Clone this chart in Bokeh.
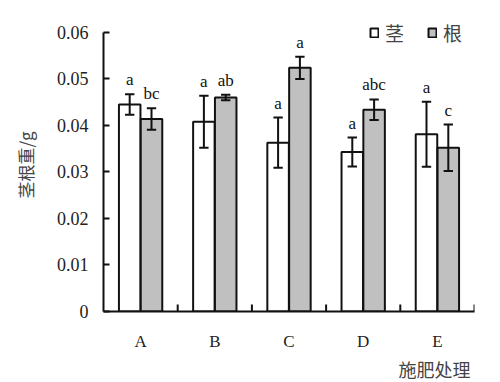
from bokeh.plotting import figure
from bokeh.models import ColumnDataSource, FactorRange, Title, FixedTicker, Range1d
from bokeh.transform import dodge
from bokeh.core.properties import value
from bokeh.embed import file_html
from bokeh.resources import INLINE

# ---- data ----
categories = ["A", "B", "C", "D", "E"]
stem = [0.0445, 0.0408, 0.0363, 0.0343, 0.0381]
stem_err = [0.0022, 0.0056, 0.0054, 0.0031, 0.0070]
root = [0.0414, 0.0460, 0.0524, 0.0434, 0.0352]
root_err = [0.0023, 0.0006, 0.0024, 0.0022, 0.0050]
stem_letters = ["a", "a", "a", "a", "a"]
root_letters = ["bc", "ab", "a", "abc", "c"]
y_ticks = [0, 0.01, 0.02, 0.03, 0.04, 0.05, 0.06]
y_tick_labels = ["0", "0.01", "0.02", "0.03", "0.04", "0.05", "0.06"]
series_names = ["茎", "根"]
x_title = "施肥处理"
y_title = "茎根重/g"

serif = "Liberation Serif"
cjk = "Noto Sans CJK SC"

src = ColumnDataSource(dict(
    cat=categories,
    stem=stem,
    stem_lo=[v - e for v, e in zip(stem, stem_err)],
    stem_hi=[v + e for v, e in zip(stem, stem_err)],
    root=root,
    root_lo=[v - e for v, e in zip(root, root_err)],
    root_hi=[v + e for v, e in zip(root, root_err)],
    stem_lab=stem_letters,
    root_lab=root_letters,
))

# y range extends a little above the last tick so the legend fits in the frame;
# the axis itself is bounded to 0..0.06
p = figure(x_range=FactorRange(*categories, range_padding=0), y_range=Range1d(0, 0.063),
           width=500, height=382, output_backend="svg", toolbar_location=None,
           min_border_left=103, min_border_right=26, min_border_top=18, min_border_bottom=71)
p.x_range.factor_padding = 0
p.outline_line_color = None
p.grid.grid_line_color = None
p.background_fill_color = "white"

w = 0.29
off = 0.147
cap = 0.063

p.vbar(x=dodge("cat", -off, range=p.x_range), top="stem", width=w, source=src,
       fill_color="white", line_color="#111111", line_width=2, legend_label=series_names[0])
p.vbar(x=dodge("cat", off, range=p.x_range), top="root", width=w, source=src,
       fill_color="#c0c0c0", line_color="#111111", line_width=2, legend_label=series_names[1])

for o, lo, hi in [(-off, "stem_lo", "stem_hi"), (off, "root_lo", "root_hi")]:
    p.segment(x0=dodge("cat", o, range=p.x_range), x1=dodge("cat", o, range=p.x_range),
              y0=lo, y1=hi, source=src, line_color="#111111", line_width=2)
    for yy in (lo, hi):
        p.segment(x0=dodge("cat", o - cap, range=p.x_range), x1=dodge("cat", o + cap, range=p.x_range),
                  y0=yy, y1=yy, source=src, line_color="#111111", line_width=2)

for o, hi, lab in [(-off, "stem_hi", "stem_lab"), (off, "root_hi", "root_lab")]:
    p.text(x=dodge("cat", o, range=p.x_range), y=hi, text=lab, source=src,
           text_align="center", text_baseline="bottom", y_offset=-5,
           text_font=value(serif), text_font_size="17px", text_color="#111111")

# boundary ticks on the x axis (pointing inward)
bounds = list(range(1, len(categories) + 1))
p.segment(x0=bounds, x1=bounds, y0=[0] * len(bounds), y1=[0.0015] * len(bounds),
          line_color="#111111", line_width=2)

# axes
p.yaxis.bounds = (0, 0.06)
p.yaxis.ticker = FixedTicker(ticks=y_ticks)
p.yaxis.major_label_overrides = {t: l for t, l in zip(y_ticks, y_tick_labels)}
p.yaxis.major_tick_in = 6
p.yaxis.major_tick_out = 0
p.yaxis.minor_tick_line_color = None
p.yaxis.major_label_standoff = 15
p.yaxis.axis_label = y_title
p.yaxis.axis_label_text_font = cjk
p.yaxis.axis_label_text_font_size = "17px"
p.yaxis.axis_label_text_font_style = "normal"
p.yaxis.axis_label_text_color = "#444444"
p.yaxis.axis_label_standoff = 16

p.xaxis.major_tick_in = 0
p.xaxis.major_tick_out = 0
p.xaxis.major_label_standoff = 20

for ax in (p.xaxis, p.yaxis):
    ax.axis_line_width = 2
    ax.axis_line_color = "#111111"
    ax.major_tick_line_width = 2
    ax.major_tick_line_color = "#111111"
    ax.major_label_text_font = serif
    ax.major_label_text_color = "#222222"
p.yaxis.major_label_text_font_size = "18px"
p.xaxis.major_label_text_font_size = "17px"

p.add_layout(Title(text=x_title, align="right", text_font=cjk, text_font_size="18px",
                   text_font_style="normal", text_color="#444444", standoff=0, offset=4), "below")

# legend
lg = p.legend[0]
lg.orientation = "horizontal"
lg.location = (266, 265)
lg.border_line_color = None
lg.background_fill_alpha = 0
lg.padding = 0
lg.margin = 0
lg.spacing = 22
lg.label_standoff = 6
lg.glyph_width = 10
lg.glyph_height = 11
lg.label_height = 24
lg.label_text_font = cjk
lg.label_text_font_size = "19px"
lg.label_text_color = "#444444"

open("out.html", "w").write(file_html(p, INLINE))
